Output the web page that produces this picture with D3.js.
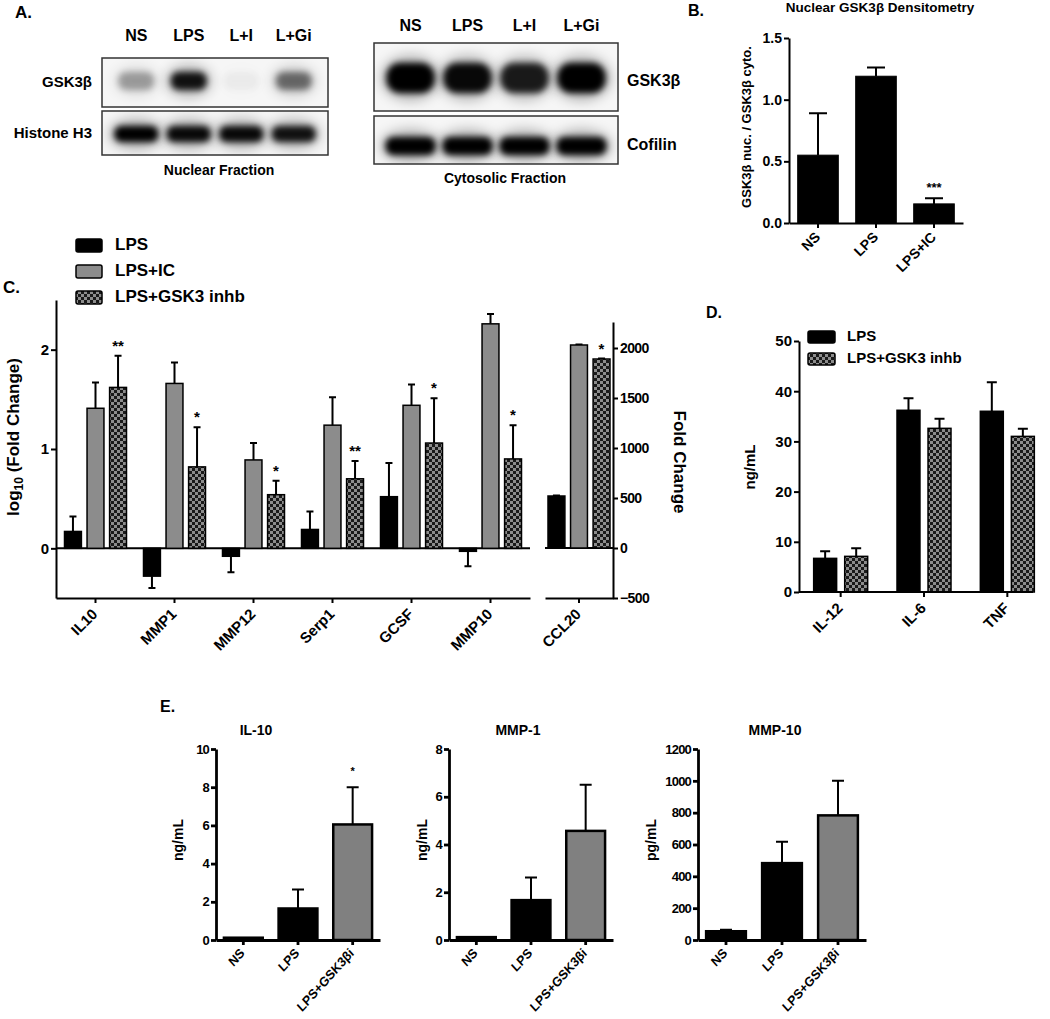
<!DOCTYPE html>
<html>
<head>
<meta charset="utf-8">
<script src="https://cdn.jsdelivr.net/npm/d3@7"></script>
<style>
  body { margin: 0; background: #fff; }
  svg text { font-family: "Liberation Sans", Arial, sans-serif; font-weight: bold; fill: #000; }
  .axis path, .axis line { stroke: #000; stroke-width: 2; }
  .axis text { fill: #000; }
</style>
</head>
<body>
<svg id="fig" width="1050" height="1019"></svg>
<script>
// ---- data ----
const lanes = ["NS", "LPS", "L+I", "L+Gi"];
const nucGsk = [0.30, 0.90, 0.03, 0.50];
const nucH3 = [1, 0.95, 0.95, 0.9];
const cytGsk = [1, 0.95, 0.85, 1];
const cytCof = [1, 1, 1, 1];

const densGroups = ["NS", "LPS", "LPS+IC"];
const densVal = [0.55, 1.19, 0.155];
const densErr = [0.34, 0.07, 0.045];
const densSig = ["", "", "***"];

const seriesC = ["LPS", "LPS+IC", "LPS+GSK3 inhb"];
const genes = ["IL10", "MMP1", "MMP12", "Serp1", "GCSF", "MMP10"];
const lpsLog = [0.17, -0.28, -0.08, 0.19, 0.52, -0.03];
const lpsLogErr = [0.15, 0.12, 0.16, 0.18, 0.34, 0.15];
const icLog = [1.41, 1.66, 0.89, 1.24, 1.44, 2.26];
const icLogErr = [0.26, 0.21, 0.17, 0.28, 0.21, 0.10];
const gskLog = [1.62, 0.82, 0.54, 0.70, 1.06, 0.90];
const gskLogErr = [0.32, 0.40, 0.14, 0.18, 0.45, 0.34];
const gskSig = ["**", "*", "*", "**", "*", "*"];
const ccl20 = [520, 2030, 1890];
const ccl20Err = [6, 4, 4];
const ccl20Sig = ["", "", "*"];

const seriesD = ["LPS", "LPS+GSK3 inhb"];
const cytokines = ["IL-12", "IL-6", "TNF"];
const dLps = [6.7, 36.2, 36.0];
const dLpsErr = [1.4, 2.4, 5.8];
const dGsk = [7.1, 32.6, 31.0];
const dGskErr = [1.6, 1.9, 1.5];

const eGroups = ["NS", "LPS", "LPS+GSK3βi"];
const il10 = [0.12, 1.65, 6.05];
const il10Err = [0, 1.0, 1.95];
const mmp1 = [0.12, 1.67, 4.57];
const mmp1Err = [0, 0.95, 1.93];
const mmp10 = [55, 483, 783];
const mmp10Err = [10, 135, 217];

// ---- setup ----
const svg = d3.select("#fig");
const defs = svg.append("defs");
const f1 = defs.append("filter").attr("id", "blur").attr("x", "-60%").attr("y", "-60%").attr("width", "220%").attr("height", "220%");
f1.append("feGaussianBlur").attr("stdDeviation", 3);
const f2 = defs.append("filter").attr("id", "blur2").attr("x", "-60%").attr("y", "-60%").attr("width", "220%").attr("height", "220%");
f2.append("feGaussianBlur").attr("stdDeviation", 7);
const pat = defs.append("pattern").attr("id", "checker").attr("patternUnits", "userSpaceOnUse").attr("width", 6).attr("height", 6);
pat.append("rect").attr("width", 6).attr("height", 6).attr("fill", "#8d8d8d");
pat.append("rect").attr("width", 3).attr("height", 3).attr("fill", "#1a1a1a");
pat.append("rect").attr("x", 3).attr("y", 3).attr("width", 3).attr("height", 3).attr("fill", "#1a1a1a");

function text(x, y, s, size, anchor, rot) {
  const t = svg.append("text").attr("transform", `translate(${x},${y})` + (rot ? ` rotate(${rot})` : ""))
    .attr("text-anchor", anchor || "start").attr("dominant-baseline", "middle")
    .style("font-size", size + "px").text(s);
  return t;
}

function errBars(rows, xf, y, cap, sw) {
  svg.append("g").selectAll("path").data(rows).join("path")
    .attr("d", d => {
      const x = xf(d), y0 = y(d.v), y1 = y(d.v + (d.v < 0 ? -d.e : d.e));
      return `M${x},${y0}V${y1}M${x - cap / 2},${y1}H${x + cap / 2}`;
    })
    .attr("fill", "none").attr("stroke", "#000").attr("stroke-width", sw);
}

function barRects(rows, xf, w, y, fill, sw) {
  svg.append("g").selectAll("rect").data(rows).join("rect")
    .attr("x", d => xf(d) - w / 2)
    .attr("y", d => Math.min(y(d.v), y(0)))
    .attr("width", w)
    .attr("height", d => Math.abs(y(d.v) - y(0)))
    .attr("fill", fill).attr("stroke", "#000").attr("stroke-width", sw);
}

function stars(rows, xf, y, size, off) {
  svg.append("g").selectAll("text").data(rows.filter(d => d.sig)).join("text")
    .attr("x", xf).attr("y", d => y(d.v + d.e) - off)
    .attr("text-anchor", "middle").style("font-size", size + "px").text(d => d.sig);
}

function leftAxis(x, scale, ticks, fmt, size, sw) {
  const g = svg.append("g").attr("class", "axis").attr("transform", `translate(${x},0)`)
    .call(d3.axisLeft(scale).tickValues(ticks).tickFormat(fmt).tickSize(5).tickSizeOuter(0).tickPadding(2));
  g.selectAll("text").style("font-size", size + "px");
  g.selectAll("path,line").style("stroke-width", sw);
  return g;
}

function bottomAxis(y, scale, size, sw, dx, dy, sx) {
  const g = svg.append("g").attr("class", "axis").attr("transform", `translate(0,${y})`)
    .call(d3.axisBottom(scale).tickSize(5).tickSizeOuter(0));
  g.selectAll("text").style("font-size", size + "px").attr("text-anchor", "end")
    .attr("y", 0).attr("dy", 0).attr("transform", `translate(${dx},${dy}) scale(${sx || 1},1) rotate(-45)`);
  g.selectAll("path,line").style("stroke-width", sw);
  return g;
}

// ---- panel A: blots ----
text(15, 14, "A.", 17);

function blot(id, x0, x1, y0, y1, vals, cy, rx, ry) {
  const lx = d3.scaleBand().domain(lanes).range([x0 + 8, x1 - 8]);
  defs.append("clipPath").attr("id", id).append("rect").attr("x", x0).attr("y", y0).attr("width", x1 - x0).attr("height", y1 - y0);
  svg.append("rect").attr("x", x0).attr("y", y0).attr("width", x1 - x0).attr("height", y1 - y0).attr("fill", "#f6f6f6");
  const g = svg.append("g").attr("clip-path", `url(#${id})`);
  g.selectAll("ellipse.halo").data(vals).join("ellipse").attr("class", "halo")
    .attr("cx", (d, i) => lx(lanes[i]) + lx.bandwidth() / 2).attr("cy", cy)
    .attr("rx", rx + 4).attr("ry", ry + 6).attr("fill", "#000")
    .attr("opacity", d => d * 0.35).attr("filter", "url(#blur2)");
  g.selectAll("rect.core").data(vals).join("rect").attr("class", "core")
    .attr("x", (d, i) => lx(lanes[i]) + lx.bandwidth() / 2 - rx).attr("y", cy - ry)
    .attr("width", 2 * rx).attr("height", 2 * ry).attr("rx", ry * 0.9).attr("fill", "#000")
    .attr("opacity", d => d).attr("filter", "url(#blur)");
  svg.append("rect").attr("x", x0).attr("y", y0).attr("width", x1 - x0).attr("height", y1 - y0)
    .attr("fill", "none").attr("stroke", "#333").attr("stroke-width", 1.5);
  return lx;
}

const lxN = blot("cn1", 102, 328, 58, 107, nucGsk, 81, 18, 9);
blot("cn2", 102, 328, 111, 155, nucH3, 134, 22, 8);
lanes.forEach(l => text(lxN(l) + lxN.bandwidth() / 2, 37, l, 16, "middle"));
text(92, 83, "GSK3β", 15, "end");
text(92, 134, "Histone H3", 15, "end");
text(219, 171, "Nuclear Fraction", 14, "middle");

const lxC = blot("cc1", 374, 618, 43, 111, cytGsk, 78, 24, 15);
blot("cc2", 374, 618, 116, 164, cytCof, 146, 25, 9);
lanes.forEach(l => text(lxC(l) + lxC.bandwidth() / 2, 27, l, 16, "middle"));
text(627, 82, "GSK3β", 16, "start");
text(627, 146, "Cofilin", 16, "start");
text(505, 179, "Cytosolic Fraction", 14, "middle");

// ---- panel B ----
text(688, 12, "B.", 16);
text(880, 8, "Nuclear GSK3β Densitometry", 13.5, "middle");
const yB = d3.scaleLinear().domain([0, 1.5]).range([223, 38]);
const xB = d3.scaleBand().domain(densGroups).range([789, 963]).paddingInner(0.3).paddingOuter(0.15);
const rowsB = densGroups.map((g, i) => ({cat: g, v: densVal[i], e: densErr[i], sig: densSig[i]}));
const cxB = d => xB(d.cat) + xB.bandwidth() / 2;
errBars(rowsB, cxB, yB, 18, 2);
barRects(rowsB, cxB, xB.bandwidth(), yB, "#000", 1);
stars(rowsB, cxB, yB, 13, 6);
leftAxis(789, yB, [0, 0.5, 1, 1.5], d3.format(".1f"), 14, 2);
bottomAxis(223, xB, 14, 2, 3, 15);
text(748, 127, "GSK3β nuc. / GSK3β cyto.", 13, "middle", -90);

// ---- panel C ----
text(3, 289, "C.", 17);
const fillC = ["#000", "#8c8c8c", "url(#checker)"];
seriesC.forEach((s, i) => {
  svg.append("rect").attr("x", 76).attr("y", 239 + i * 26).attr("width", 26).attr("height", 13)
    .attr("fill", fillC[i]).attr("stroke", "#000").attr("stroke-width", 1.5).attr("rx", 2);
  text(115, 246 + i * 26, s, 17, "start");
});

const yC = d3.scaleLinear().domain([-0.5, 2.5]).range([598, 300]);
const yC2 = d3.scaleLinear().domain([-500, 2260]).range([598, 322]);
const xC = d3.scaleBand().domain(genes).range([56, 530]);
const xC2 = d3.scaleBand().domain(["CCL20"]).range([545, 613]);
const xCs = d3.scaleBand().domain(seriesC).range([-31, 31]).paddingInner(0.25);
const valsC = [lpsLog, icLog, gskLog], errsC = [lpsLogErr, icLogErr, gskLogErr];

// zero lines
svg.append("line").attr("x1", 56).attr("x2", 530).attr("y1", yC(0)).attr("y2", yC(0)).attr("stroke", "#000").attr("stroke-width", 2);
svg.append("line").attr("x1", 545).attr("x2", 613).attr("y1", yC2(0)).attr("y2", yC2(0)).attr("stroke", "#000").attr("stroke-width", 2);

seriesC.forEach((s, j) => {
  const rows = genes.map((g, i) => ({cat: g, v: valsC[j][i], e: errsC[j][i], sig: j === 2 ? gskSig[i] : ""}));
  const cx = d => xC(d.cat) + xC.bandwidth() / 2 + xCs(s) + xCs.bandwidth() / 2;
  errBars(rows, cx, yC, 7, 2);
  barRects(rows, cx, xCs.bandwidth(), yC, fillC[j], 1.5);
  stars(rows, cx, yC, 15, 5);
  const r2 = [{cat: "CCL20", v: ccl20[j], e: ccl20Err[j], sig: ccl20Sig[j]}];
  const cx2 = d => xC2(d.cat) + xC2.bandwidth() / 2 + xCs(s) + xCs.bandwidth() / 2;
  errBars(r2, cx2, yC2, 7, 2);
  barRects(r2, cx2, xCs.bandwidth(), yC2, fillC[j], 1.5);
  stars(r2, cx2, yC2, 15, 5);
});

leftAxis(56, yC, [0, 1, 2], d3.format("d"), 15, 2);
const rAx = svg.append("g").attr("class", "axis").attr("transform", "translate(613,0)")
  .call(d3.axisRight(yC2).tickValues([-500, 0, 500, 1000, 1500, 2000]).tickFormat(d3.format("d")).tickSize(5).tickSizeOuter(0).tickPadding(2));
rAx.selectAll("text").style("font-size", "14px").style("letter-spacing", "-0.6px");
bottomAxis(598, xC, 15, 2, 3, 17);
bottomAxis(598, xC2, 15, 2, 3, 17);

const yl = svg.append("text").attr("transform", "translate(19,437) rotate(-90)")
  .attr("text-anchor", "middle").style("font-size", "17px");
yl.append("tspan").text("log");
yl.append("tspan").attr("dy", 4).style("font-size", "12px").text("10");
yl.append("tspan").attr("dy", -4).text(" (Fold Change)");
text(678, 462, "Fold Change", 17, "middle", 90);

// ---- panel D ----
text(706, 314, "D.", 16);
const yD = d3.scaleLinear().domain([0, 50]).range([592, 341]);
const xD = d3.scaleBand().domain(cytokines).range([799, 1049]);
const xDs = d3.scaleBand().domain(seriesD).range([-27, 27]).paddingInner(0.26);
const valsD = [dLps, dGsk], errsD = [dLpsErr, dGskErr];
const fillD = ["#000", "url(#checker)"];
seriesD.forEach((s, j) => {
  const rows = cytokines.map((c, i) => ({cat: c, v: valsD[j][i], e: errsD[j][i]}));
  const cx = d => xD(d.cat) + xD.bandwidth() / 2 + xDs(s) + xDs.bandwidth() / 2;
  errBars(rows, cx, yD, 10, 2);
  barRects(rows, cx, xDs.bandwidth(), yD, fillD[j], 1.5);
  svg.append("rect").attr("x", 808).attr("y", 331 + j * 22).attr("width", 27).attr("height", 12)
    .attr("fill", fillD[j]).attr("stroke", "#000").attr("stroke-width", 1.5).attr("rx", 2);
  text(847, 337 + j * 22, s, 15, "start");
});
leftAxis(799, yD, d3.range(0, 51, 10), d3.format("d"), 15, 2);
const dAx = bottomAxis(592, xD, 15, 2, 3, 17);
dAx.select(".domain").attr("d", `M799,0H1033`);
text(751, 467, "ng/mL", 15, "middle", -90);

// ---- panel E ----
text(160, 708, "E.", 16);
const eCharts = [
  {title: "IL-10", vals: il10, errs: il10Err, sig: ["", "", "*"], max: 10, step: 2, x0: 216, x1: 380, unit: "ng/mL", lx: 179, tx: 256},
  {title: "MMP-1", vals: mmp1, errs: mmp1Err, sig: ["", "", ""], max: 8, step: 2, x0: 449, x1: 613, unit: "ng/mL", lx: 423, tx: 518},
  {title: "MMP-10", vals: mmp10, errs: mmp10Err, sig: ["", "", ""], max: 1200, step: 200, x0: 698, x1: 866, unit: "pg/mL", lx: 652, tx: 775}
];
const fillE = ["#000", "#000", "#808080"];
eCharts.forEach(c => {
  const y = d3.scaleLinear().domain([0, c.max]).range([940, 749]);
  const x = d3.scaleBand().domain(eGroups).range([c.x0, c.x1]).paddingInner(0.29).paddingOuter(0.145);
  const rows = eGroups.map((g, i) => ({cat: g, v: c.vals[i], e: c.errs[i], sig: c.sig[i], f: fillE[i]}));
  const cx = d => x(d.cat) + x.bandwidth() / 2;
  errBars(rows.filter(d => d.e > 0), cx, y, 12, 2);
  svg.append("g").selectAll("rect").data(rows).join("rect")
    .attr("x", d => cx(d) - x.bandwidth() / 2).attr("y", d => y(d.v))
    .attr("width", x.bandwidth()).attr("height", d => y(0) - y(d.v))
    .attr("fill", d => d.f).attr("stroke", "#000").attr("stroke-width", 2.5);
  stars(rows, cx, y, 11, 12);
  const la = leftAxis(c.x0, y, d3.range(0, c.max + 1, c.step), d3.format("d"), 13, 2.8);
  la.selectAll("text").style("letter-spacing", "-0.8px");
  bottomAxis(940, x, 13.5, 2.8, 2, 14, 0.9);
  text(c.lx, 840, c.unit, 14, "middle", -90);
  text(c.tx, 731, c.title, 14, "middle");
});
</script>
</body>
</html>
